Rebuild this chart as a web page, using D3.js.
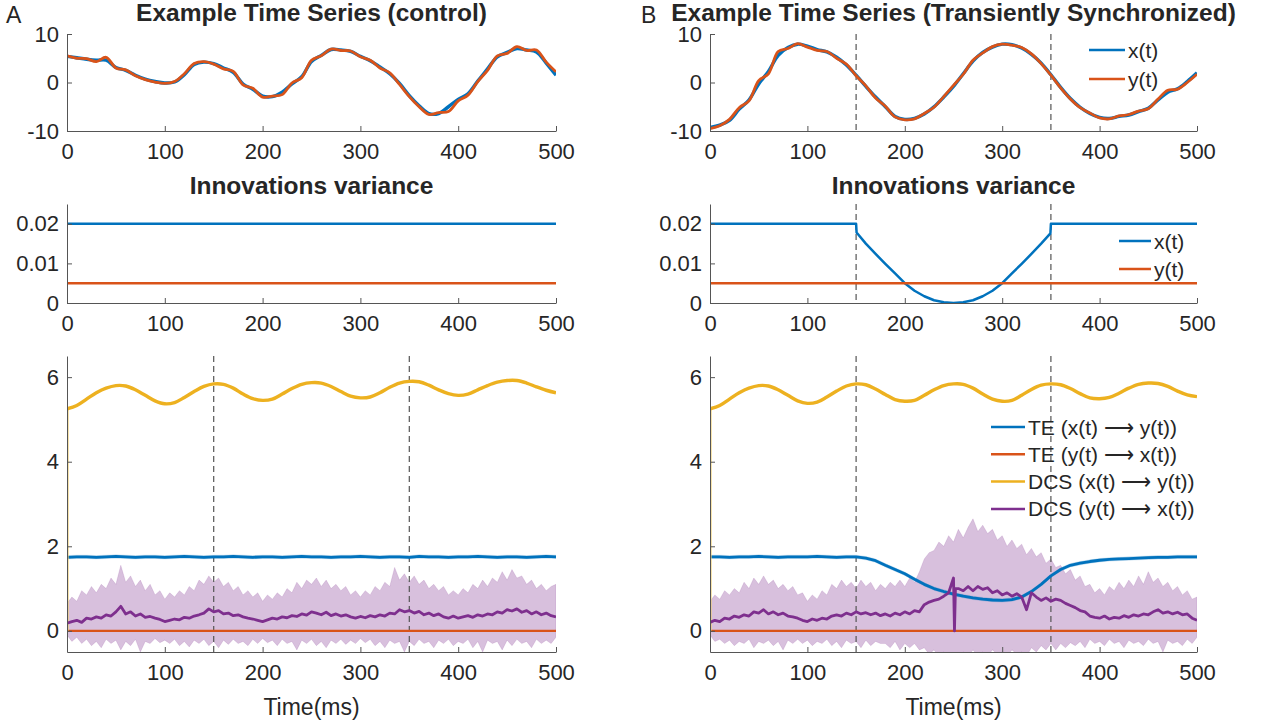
<!DOCTYPE html>
<html>
<head>
<meta charset="utf-8">
<script src="https://cdn.jsdelivr.net/npm/d3@7"></script>
<style>
  body { margin: 0; background: #fff; }
  text { font-family: "Liberation Sans", Arial, Helvetica, sans-serif; fill: #262626; }
</style>
</head>
<body>
<svg id="chart" width="1261" height="724"></svg>
<script>
// ---- data ----
const xTicks = [0, 100, 200, 300, 400, 500];
const t10 = d3.range(0, 501, 10);   // 10 ms grid
const t5 = d3.range(0, 501, 5);     // 5 ms grid

// example time series, control
const ctrlX = [5.4, 5.1, 4.8, 4.6, 4.6, 3.1, 2.5, 1.5, 0.7, 0.2, -0.1,
  0.1, 1.6, 3.7, 4.2, 3.9, 3.0, 2.1, -0.3, -1.4, -2.8,
  -2.9, -2.0, -0.3, 1.2, 4.3, 5.6, 6.8, 6.7, 6.4, 5.4,
  4.5, 3.2, 1.8, -0.2, -2.7, -4.8, -6.4, -6.4, -5.0, -3.5,
  -2.3, 0.3, 2.8, 5.3, 6.2, 7.0, 6.7, 6.3, 4.0, 1.5];
const ctrlY = [5.5, 5.0, 4.9, 4.3, 5.2, 3.0, 2.6, 1.4, 0.6, 0.1, -0.2,
  0.2, 1.8, 3.9, 4.3, 3.8, 2.8, 2.3, -0.5, -1.2, -3.0,
  -2.8, -2.5, -0.1, 1.0, 4.6, 5.5, 6.9, 6.6, 6.5, 5.3,
  4.6, 3.0, 2.0, -0.4, -2.9, -5.0, -6.6, -6.2, -6.0, -3.8,
  -2.6, 0.2, 2.5, 5.5, 6.0, 7.4, 6.6, 6.7, 4.2, 2.2];

// example time series, transiently synchronized
const syncX = [-9.3, -8.8, -7.8, -5.5, -3.6, -0.3, 2.3, 5.6, 7.2, 7.9, 7.5,
  6.8, 6.3, 5.2, 3.6, 1.5, -0.8, -3.0, -5.0, -7.0, -7.6,
  -7.4, -6.5, -5.0, -3.0, -0.8, 1.8, 4.4, 6.2, 7.3, 7.9,
  7.8, 7.1, 5.8, 4.0, 1.6, -1.0, -3.3, -5.1, -6.4, -7.2,
  -7.4, -7.0, -6.7, -6.0, -5.3, -3.6, -2.0, -1.3, 0.2, 2.0];
const syncY = [-9.5, -8.9, -7.6, -5.2, -3.8, 0.4, 1.8, 6.4, 7.0, 8.0, 7.3,
  6.6, 6.4, 5.0, 3.8, 1.4, -0.7, -3.2, -4.9, -7.1, -7.7,
  -7.5, -6.4, -5.1, -2.9, -0.6, 1.7, 4.6, 6.1, 7.4, 7.9,
  7.7, 7.2, 5.9, 3.9, 1.5, -1.1, -3.4, -5.2, -6.3, -7.3,
  -7.5, -6.9, -6.6, -5.9, -5.4, -3.4, -1.6, -1.4, 0.0, 1.7];

// innovations variance
const innovCtrlTime = [0, 500];
const innovCtrlX = [0.02, 0.02];
const innovCtrlY = [0.005, 0.005];
const innovSyncTime = [0, 150, 150.5, 160, 170, 180, 190, 200, 210, 220, 230, 240, 250,
  260, 270, 280, 290, 300, 310, 320, 330, 340, 349.5, 350, 500];
const innovSyncX = [0.02, 0.02, 0.0178, 0.0150, 0.0124, 0.0099, 0.0075, 0.0050, 0.0031, 0.0017, 0.0007, 0.0002, 0,
  0.0002, 0.0007, 0.0017, 0.0031, 0.0050, 0.0075, 0.0099, 0.0124, 0.0150, 0.0176, 0.02, 0.02];
const innovSyncY = innovCtrlY;

// TE and DCS estimates
const teXYCtrl = [1.74, 1.75, 1.75, 1.74, 1.75, 1.76, 1.75, 1.74, 1.75, 1.75, 1.74,
  1.75, 1.76, 1.75, 1.74, 1.75, 1.75, 1.76, 1.75, 1.74, 1.75,
  1.75, 1.74, 1.75, 1.76, 1.75, 1.75, 1.74, 1.75, 1.75, 1.76,
  1.75, 1.74, 1.75, 1.75, 1.74, 1.76, 1.75, 1.75, 1.74, 1.75,
  1.75, 1.76, 1.75, 1.74, 1.75, 1.75, 1.74, 1.75, 1.76, 1.75];
const teXYSync = [1.75, 1.75, 1.74, 1.75, 1.75, 1.76, 1.75, 1.74, 1.75, 1.75, 1.75,
  1.76, 1.75, 1.74, 1.75, 1.75, 1.72, 1.66, 1.55, 1.45, 1.35,
  1.22, 1.10, 1.00, 0.93, 0.87, 0.82, 0.78, 0.75, 0.73, 0.72,
  0.74, 0.80, 0.93, 1.10, 1.30, 1.45, 1.55, 1.60, 1.64, 1.67,
  1.69, 1.70, 1.71, 1.72, 1.73, 1.74, 1.74, 1.75, 1.75, 1.75];
const teYX = [0, 0];
const teYXTime = [0, 500];

const dcsXYCtrl = [5.25, 5.33, 5.48, 5.63, 5.74, 5.80, 5.79, 5.70, 5.57, 5.44, 5.37,
  5.40, 5.52, 5.66, 5.78, 5.84, 5.83, 5.74, 5.60, 5.49, 5.45,
  5.48, 5.60, 5.73, 5.83, 5.87, 5.86, 5.78, 5.66, 5.55, 5.51,
  5.53, 5.63, 5.76, 5.86, 5.90, 5.89, 5.81, 5.70, 5.61, 5.57,
  5.60, 5.70, 5.80, 5.88, 5.92, 5.92, 5.86, 5.77, 5.69, 5.63];
const dcsXYSync = [5.25, 5.33, 5.48, 5.63, 5.74, 5.80, 5.79, 5.70, 5.57, 5.44, 5.38,
  5.41, 5.53, 5.67, 5.79, 5.84, 5.82, 5.72, 5.59, 5.47, 5.43,
  5.45, 5.57, 5.70, 5.80, 5.84, 5.83, 5.74, 5.60, 5.48, 5.43,
  5.45, 5.57, 5.71, 5.81, 5.84, 5.82, 5.73, 5.61, 5.51, 5.49,
  5.52, 5.62, 5.74, 5.83, 5.86, 5.85, 5.78, 5.67, 5.58, 5.54];
const dcsOnset = [0, 5.25];   // first sample jumps up from zero

// DCS (y -> x) mean and shaded band, 5 ms grid
const dcsYXCtrl = [0.18, 0.22, 0.25, 0.20, 0.30, 0.28, 0.33, 0.30, 0.38, 0.35,
  0.45, 0.58, 0.40, 0.45, 0.35, 0.40, 0.32, 0.34, 0.30, 0.27,
  0.22, 0.25, 0.28, 0.26, 0.32, 0.30, 0.35, 0.38, 0.42, 0.52,
  0.45, 0.48, 0.40, 0.42, 0.36, 0.38, 0.33, 0.30, 0.28, 0.25,
  0.22, 0.26, 0.30, 0.28, 0.33, 0.31, 0.36, 0.34, 0.40, 0.37,
  0.45, 0.42, 0.38, 0.44, 0.36, 0.40, 0.35, 0.38, 0.33, 0.30,
  0.34, 0.31, 0.36, 0.33, 0.38, 0.35, 0.42, 0.40, 0.50, 0.45,
  0.48, 0.42, 0.46, 0.38, 0.42, 0.36, 0.40, 0.33, 0.30, 0.35,
  0.30, 0.33, 0.36, 0.32, 0.38, 0.35, 0.40, 0.38, 0.45, 0.42,
  0.50, 0.47, 0.52, 0.44, 0.48, 0.40, 0.45, 0.38, 0.42, 0.36, 0.33];
const dcsYXCtrlHi = [0.65, 0.80, 0.70, 0.95, 0.85, 1.05, 0.90, 1.10, 1.00, 1.25,
  1.10, 1.55, 1.15, 1.30, 1.05, 1.20, 0.95, 1.10, 0.85, 0.95,
  0.75, 0.90, 0.80, 0.95, 0.85, 1.05, 0.95, 1.20, 1.10, 1.30,
  1.15, 1.25, 1.05, 1.15, 0.95, 1.05, 0.85, 0.95, 0.80, 0.90,
  0.70, 0.85, 0.75, 0.90, 0.80, 1.00, 0.90, 1.15, 1.00, 1.20,
  1.10, 1.25, 1.05, 1.20, 1.00, 1.10, 0.95, 1.05, 0.85, 0.95,
  0.80, 0.95, 0.85, 1.05, 0.95, 1.15, 1.05, 1.50, 1.20, 1.35,
  1.15, 1.30, 1.10, 1.20, 1.00, 1.10, 0.95, 1.05, 0.85, 0.95,
  0.85, 1.00, 0.90, 1.10, 1.00, 1.20, 1.05, 1.25, 1.15, 1.40,
  1.20, 1.45, 1.25, 1.30, 1.10, 1.20, 1.00, 1.10, 0.95, 1.05, 1.10];
const dcsYXCtrlLo = [-0.10, -0.25, -0.15, -0.30, -0.20, -0.35, -0.25, -0.40, -0.20, -0.30,
  -0.22, -0.45, -0.25, -0.35, -0.20, -0.50, -0.25, -0.30, -0.18, -0.28,
  -0.22, -0.30, -0.20, -0.35, -0.25, -0.38, -0.22, -0.30, -0.20, -0.35,
  -0.25, -0.40, -0.22, -0.32, -0.20, -0.30, -0.25, -0.35, -0.20, -0.30,
  -0.18, -0.28, -0.22, -0.35, -0.20, -0.30, -0.25, -0.45, -0.22, -0.30,
  -0.20, -0.35, -0.25, -0.40, -0.22, -0.30, -0.20, -0.32, -0.22, -0.30,
  -0.18, -0.28, -0.20, -0.35, -0.25, -0.40, -0.22, -0.30, -0.25, -0.50,
  -0.25, -0.35, -0.20, -0.30, -0.25, -0.40, -0.22, -0.30, -0.20, -0.35,
  -0.25, -0.30, -0.20, -0.40, -0.25, -0.50, -0.22, -0.30, -0.25, -0.45,
  -0.22, -0.35, -0.20, -0.30, -0.25, -0.40, -0.20, -0.30, -0.22, -0.30, -0.15];

const dcsYXSync = [0.20, 0.25, 0.22, 0.30, 0.28, 0.35, 0.32, 0.38, 0.35, 0.45,
  0.42, 0.50, 0.40, 0.45, 0.38, 0.42, 0.35, 0.33, 0.30, 0.25,
  0.22, 0.28, 0.25, 0.30, 0.28, 0.35, 0.38, 0.35, 0.42, 0.38,
  0.45, 0.40, 0.43, 0.38, 0.42, 0.36, 0.40, 0.35, 0.42, 0.38,
  0.45, 0.40, 0.48, 0.45, 0.62, 0.68, 0.72, 0.75, 0.82, 0.90,
  1.25, 1.00, 0.95, 1.05, 0.95, 1.05, 0.98, 1.02, 0.90, 0.95,
  0.85, 0.90, 0.82, 0.88, 0.80, 0.50, 0.90, 0.80, 0.72, 0.78,
  0.70, 0.75, 0.72, 0.65, 0.60, 0.55, 0.48, 0.45, 0.35, 0.32,
  0.30, 0.35, 0.28, 0.32, 0.30, 0.36, 0.32, 0.38, 0.35, 0.40,
  0.38, 0.45, 0.50, 0.42, 0.45, 0.40, 0.44, 0.38, 0.40, 0.30, 0.25];
const dcsYXSyncSpike = [[251, 0.0], [252, 1.0]];   // sharp dip at ~250 ms
const dcsYXSyncHi = [0.70, 0.85, 0.75, 0.95, 0.85, 1.00, 0.90, 1.15, 1.00, 1.25,
  1.10, 1.30, 1.10, 1.20, 1.00, 1.10, 0.95, 1.05, 0.85, 0.90,
  0.70, 0.85, 0.75, 0.95, 0.85, 1.10, 1.00, 1.20, 1.05, 1.15,
  1.00, 1.20, 1.05, 1.15, 0.95, 1.10, 1.00, 1.15, 1.05, 1.20,
  1.05, 1.25, 1.15, 1.40, 1.70, 1.85, 1.90, 2.10, 2.00, 2.25,
  2.10, 2.40, 2.20, 2.45, 2.65, 2.35, 2.50, 2.30, 2.40, 2.15,
  2.25, 2.00, 2.15, 1.95, 2.05, 1.80, 1.95, 1.75, 1.85, 1.60,
  1.70, 1.50, 1.55, 1.35, 1.45, 1.20, 1.30, 1.05, 1.10, 0.90,
  1.00, 0.85, 1.05, 0.95, 1.15, 1.00, 1.20, 1.05, 1.30, 1.10,
  1.40, 1.15, 1.25, 1.05, 1.15, 0.95, 1.05, 0.85, 0.95, 0.75, 0.80];
const dcsYXSyncLo = [-0.10, -0.25, -0.20, -0.30, -0.22, -0.35, -0.25, -0.30, -0.20, -0.40,
  -0.25, -0.30, -0.22, -0.35, -0.25, -0.45, -0.22, -0.30, -0.20, -0.30,
  -0.22, -0.35, -0.25, -0.30, -0.20, -0.35, -0.25, -0.40, -0.22, -0.30,
  -0.25, -0.40, -0.22, -0.35, -0.25, -0.30, -0.30, -0.40, -0.25, -0.45,
  -0.30, -0.40, -0.30, -0.45, -0.40, -0.55, -0.45, -0.60, -0.50, -0.60,
  -0.55, -0.60, -0.50, -0.60, -0.45, -0.60, -0.50, -0.60, -0.45, -0.55,
  -0.50, -0.60, -0.45, -0.55, -0.50, -0.60, -0.40, -0.50, -0.35, -0.45,
  -0.30, -0.45, -0.30, -0.40, -0.28, -0.35, -0.25, -0.40, -0.20, -0.30,
  -0.25, -0.35, -0.20, -0.30, -0.25, -0.40, -0.22, -0.30, -0.25, -0.35,
  -0.20, -0.30, -0.25, -0.50, -0.22, -0.30, -0.25, -0.35, -0.20, -0.30, -0.15];

const syncWindow = [150, 350];

// ---- drawing ----
const colors = { blue: '#0072BD', orange: '#D95319', yellow: '#EDB120', purple: '#7E2F8E' };
const svg = d3.select('#chart');

function makePanel(id, left, right, top, bottom, yDomain) {
  const x = d3.scaleLinear().domain([0, 500]).range([left, right]);
  const y = d3.scaleLinear().domain(yDomain).range([bottom, top]);
  const g = svg.append('g');
  g.append('clipPath').attr('id', id)
    .append('rect')
    .attr('x', left).attr('y', top)
    .attr('width', right - left).attr('height', bottom - top);
  const plot = g.append('g').attr('clip-path', `url(#${id})`);
  return { x, y, g, plot };
}

function drawAxes(p, yTicks) {
  const ax = p.g.append('g')
    .attr('transform', `translate(0,${p.y.range()[0]})`)
    .call(d3.axisBottom(p.x).tickValues(xTicks).tickFormat(d => String(d))
      .tickSizeInner(-5).tickSizeOuter(0).tickPadding(12));
  const ay = p.g.append('g')
    .attr('transform', `translate(${p.x.range()[0]},0)`)
    .call(d3.axisLeft(p.y).tickValues(yTicks).tickFormat(d => String(d))
      .tickSizeInner(-5).tickSizeOuter(0).tickPadding(8));
  [ax, ay].forEach(a => {
    a.attr('font-size', 22).attr('font-family', null);
    a.selectAll('path, line').attr('stroke', '#555');
    a.selectAll('text').attr('fill', '#262626');
  });
}

function drawLine(p, times, values, color, width, curve) {
  p.plot.append('path')
    .datum(values)
    .attr('fill', 'none')
    .attr('stroke', color)
    .attr('stroke-width', width)
    .attr('stroke-linejoin', 'round')
    .attr('d', d3.line()
      .x((d, i) => p.x(times[i]))
      .y(d => p.y(d))
      .curve(curve || d3.curveLinear));
}

function drawBand(p, times, lo, hi, color, opacity) {
  p.plot.append('path')
    .datum(times)
    .attr('fill', color)
    .attr('fill-opacity', opacity)
    .attr('stroke', color)
    .attr('stroke-opacity', opacity * 0.8)
    .attr('stroke-width', 0.6)
    .attr('d', d3.area()
      .x(d => p.x(d))
      .y0((d, i) => p.y(lo[i]))
      .y1((d, i) => p.y(hi[i])));
}

function drawDashes(p) {
  p.plot.selectAll(null)
    .data(syncWindow)
    .enter()
    .append('line')
    .attr('x1', d => p.x(d)).attr('x2', d => p.x(d))
    .attr('y1', p.y.range()[1]).attr('y2', p.y.range()[0])
    .attr('stroke', '#555')
    .attr('stroke-width', 1.2)
    .attr('stroke-dasharray', '6,4');
}

function drawTitle(p, text, yPos) {
  const r = p.x.range();
  p.g.append('text')
    .attr('x', (r[0] + r[1]) / 2)
    .attr('y', yPos)
    .attr('text-anchor', 'middle')
    .attr('font-size', 24.5)
    .attr('font-weight', 'bold')
    .attr('fill', '#000')
    .text(text);
}

function drawLegend(items, x0, y0, dy, lineLen) {
  const lg = svg.append('g');
  items.forEach((it, i) => {
    const yy = y0 + i * dy;
    lg.append('line')
      .attr('x1', x0).attr('x2', x0 + lineLen)
      .attr('y1', yy).attr('y2', yy)
      .attr('stroke', it.color).attr('stroke-width', 2.5);
    lg.append('text')
      .attr('x', x0 + lineLen + 3).attr('y', yy)
      .attr('dy', '0.36em')
      .attr('font-size', 21)
      .attr('fill', '#000')
      .text(it.label);
  });
}

const colLeft = [67, 556];
const colRight = [710, 1197];

// row 1: example time series
const pTopA = makePanel('clipTopA', colLeft[0], colLeft[1], 34, 131, [-10, 10]);
drawLine(pTopA, t10, ctrlX, colors.blue, 3.4, d3.curveCatmullRom);
drawLine(pTopA, t10, ctrlY, colors.orange, 2.8, d3.curveCatmullRom);
drawAxes(pTopA, [-10, 0, 10]);
drawTitle(pTopA, 'Example Time Series (control)', 21);

const pTopB = makePanel('clipTopB', colRight[0], colRight[1], 34, 131, [-10, 10]);
drawDashes(pTopB);
drawLine(pTopB, t10, syncX, colors.blue, 3.4, d3.curveCatmullRom);
drawLine(pTopB, t10, syncY, colors.orange, 2.8, d3.curveCatmullRom);
drawAxes(pTopB, [-10, 0, 10]);
drawTitle(pTopB, 'Example Time Series (Transiently Synchronized)', 21);
drawLegend([{ label: 'x(t)', color: colors.blue }, { label: 'y(t)', color: colors.orange }],
  1089, 50, 29, 36);

// row 2: innovations variance
const pMidA = makePanel('clipMidA', colLeft[0], colLeft[1], 204, 303, [0, 0.025]);
drawLine(pMidA, innovCtrlTime, innovCtrlX, colors.blue, 2.5);
drawLine(pMidA, innovCtrlTime, innovCtrlY, colors.orange, 2.5);
drawAxes(pMidA, [0, 0.01, 0.02]);
drawTitle(pMidA, 'Innovations variance', 194);

const pMidB = makePanel('clipMidB', colRight[0], colRight[1], 204, 303, [0, 0.025]);
drawDashes(pMidB);
drawLine(pMidB, innovSyncTime, innovSyncX, colors.blue, 2.5);
drawLine(pMidB, innovCtrlTime, innovSyncY, colors.orange, 2.5);
drawAxes(pMidB, [0, 0.01, 0.02]);
drawTitle(pMidB, 'Innovations variance', 194);
drawLegend([{ label: 'x(t)', color: colors.blue }, { label: 'y(t)', color: colors.orange }],
  1119, 241, 28, 32);

// row 3: TE and DCS
function drawEstimates(p, teXY, dcsXY, dcsYX, lo, hi) {
  drawBand(p, t5, lo, hi, colors.purple, 0.3);
  drawDashes(p);
  drawLine(p, teYXTime, teYX, colors.orange, 2.2);
  drawBand(p, t10, teXY.map(v => v - 0.04), teXY.map(v => v + 0.04), colors.blue, 0.25);
  drawLine(p, t10, teXY, colors.blue, 2.8);
  drawLine(p, [1, 1], dcsOnset, '#f2cf6e', 1.2);
  drawLine(p, t10, dcsXY, colors.yellow, 3.4, d3.curveCatmullRom);
  drawLine(p, dcsYX.map(d => d[0]), dcsYX.map(d => d[1]), colors.purple, 2.8);
  drawAxes(p, [0, 2, 4, 6]);
  const r = p.x.range();
  p.g.append('text')
    .attr('x', (r[0] + r[1]) / 2).attr('y', 715)
    .attr('text-anchor', 'middle')
    .attr('font-size', 23)
    .text('Time(ms)');
}

const pBotA = makePanel('clipBotA', colLeft[0], colLeft[1], 356, 652, [-0.5, 6.5]);
drawEstimates(pBotA, teXYCtrl, dcsXYCtrl, t5.map((t, i) => [t, dcsYXCtrl[i]]), dcsYXCtrlLo, dcsYXCtrlHi);

const syncPurple = t5.map((t, i) => [t, dcsYXSync[i]]).concat(dcsYXSyncSpike)
  .sort((a, b) => a[0] - b[0]);
const pBotB = makePanel('clipBotB', colRight[0], colRight[1], 356, 652, [-0.5, 6.5]);
drawEstimates(pBotB, teXYSync, dcsXYSync, syncPurple, dcsYXSyncLo, dcsYXSyncHi);
drawLegend([
  { label: 'TE (x(t) \u27F6 y(t))', color: colors.blue },
  { label: 'TE (y(t) \u27F6 x(t))', color: colors.orange },
  { label: 'DCS (x(t) \u27F6 y(t))', color: colors.yellow },
  { label: 'DCS (y(t) \u27F6 x(t))', color: colors.purple }
], 991, 427, 27.3, 34);

// panel letters
svg.append('text').attr('x', 6).attr('y', 23).attr('font-size', 23).attr('fill', '#000').text('A');
svg.append('text').attr('x', 641).attr('y', 23).attr('font-size', 23).attr('fill', '#000').text('B');
</script>
</body>
</html>
